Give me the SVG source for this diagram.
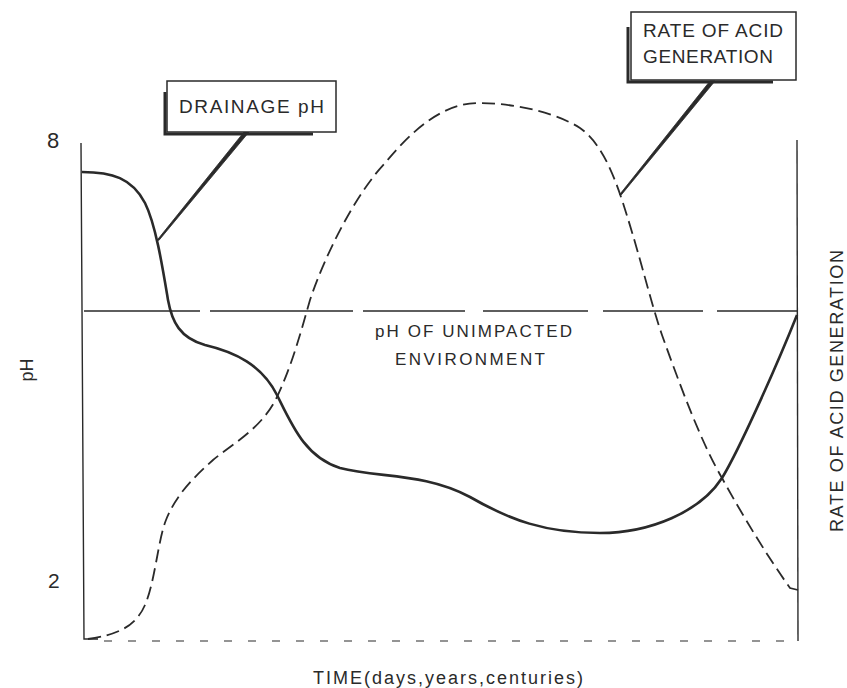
<svg xmlns="http://www.w3.org/2000/svg" width="847" height="688" viewBox="0 0 847 688">
<style>
.ink{stroke:#2a2a2a;fill:none;stroke-linecap:butt}
.t{font-family:"Liberation Sans",Arial,sans-serif;fill:#2a2a2a}
.box{fill:#fff;stroke:#2a2a2a;stroke-width:1.5}
.shadow{fill:none;stroke:#2a2a2a;stroke-width:3}
.lead{fill:#2a2a2a;stroke:#2a2a2a;stroke-width:0.8;stroke-linejoin:round}
</style>
<rect width="847" height="688" fill="#fff"/>
<g id="axes">
<path class="ink" stroke-width="1.4" d="M81,143 L84,639 L98,639"/>
<path class="ink" stroke-width="1.4" d="M797,140 L798,641"/>
<path class="ink" stroke-width="1.2" stroke-dasharray="8 16" d="M104,641 L798,641"/>
<text class="t" x="47" y="148" font-size="22">8</text>
<text class="t" x="48" y="588" font-size="21">2</text>
<text class="t" font-size="18" text-anchor="middle" transform="translate(33,370) rotate(-90)">pH</text>
<text class="t" font-size="18" text-anchor="middle" textLength="282" lengthAdjust="spacing" transform="translate(843,391) rotate(-90)">RATE OF ACID GENERATION</text>
<text class="t" x="313" y="684" font-size="18" textLength="270" lengthAdjust="spacing">TIME(days,years,centuries)</text>
</g>
<g id="unimpacted">
<path class="ink" stroke-width="1.4" d="M84,311 H200 M210,311 H353 M363,311 H465 M483,311 H588 M603,311 H703 M717,311 H797"/>
<text class="t" x="375" y="337" font-size="17" textLength="197" lengthAdjust="spacing">pH OF UNIMPACTED</text>
<text class="t" x="395" y="365" font-size="17" textLength="150" lengthAdjust="spacing">ENVIRONMENT</text>
</g>
<g id="connectors">
<path id="drainage-curve" class="ink" stroke-width="2.6" d="M82,172 C112,172 132,178 145,203 C156,225 163,270 168,300 C172,322 180,338 205,345 C235,352 262,365 277,395 C292,425 305,457 340,468 C380,478 425,473 470,497 C510,520 545,533 600,533 C650,533 700,512 722,478 C738,452 775,370 797,315"/>
<path id="acid-curve" class="ink" stroke-width="1.8" stroke-dasharray="13 6" d="M88,639 C115,635 135,628 145,605 C155,582 158,540 166,520 C176,495 193,478 213,460 C235,442 262,428 277,397 C292,365 300,335 310,300 C325,255 355,195 385,163 C410,133 440,104 477,103 C520,103 560,115 580,128 C600,142 612,170 622,200 C640,255 650,300 662,335 C680,385 700,440 722,478 C745,520 770,560 790,588 L798,590"/>
<polygon class="lead" points="244,132 249,132 158.8,240.5 157.6,239.6"/>
<polygon class="lead" points="710,81 715,81 620.8,195.5 619.6,194.6"/>
</g>
<g id="label-drainage">
<path class="shadow" d="M165,92 V134 H313"/>
<rect class="box" x="167" y="81" width="169" height="51"/>
<text class="t" x="179" y="113" font-size="19" textLength="145" lengthAdjust="spacing">DRAINAGE pH</text>
</g>
<g id="label-acid">
<path class="shadow" d="M628,27 V82 H773"/>
<rect class="box" x="631" y="12" width="165" height="68"/>
<text class="t" x="643" y="37" font-size="19" textLength="140" lengthAdjust="spacing">RATE OF ACID</text>
<text class="t" x="643" y="63" font-size="19" textLength="130" lengthAdjust="spacing">GENERATION</text>
</g>
</svg>
